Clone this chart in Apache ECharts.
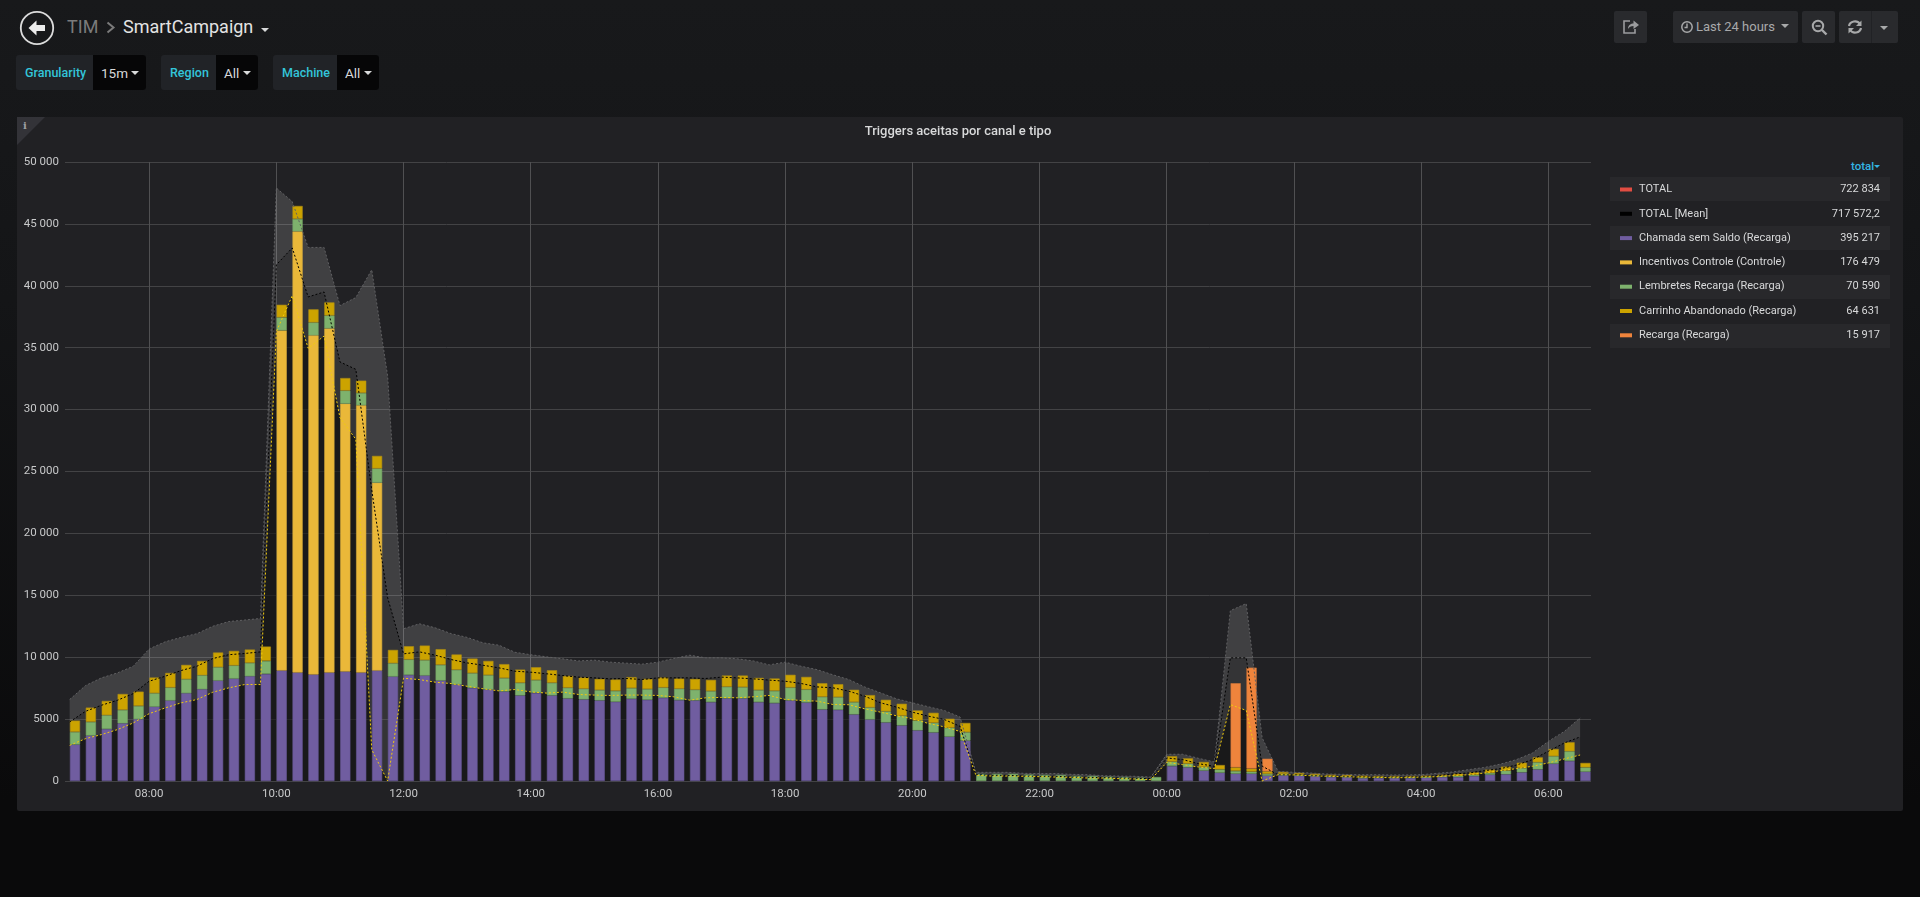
<!DOCTYPE html>
<html><head><meta charset="utf-8">
<script src="https://cdn.jsdelivr.net/npm/echarts@6/dist/echarts.min.js"></script>
<style>
html,body{margin:0;padding:0;width:1920px;height:897px;overflow:hidden;font-family:Roboto,"Open Sans",sans-serif;
 background:linear-gradient(180deg,#18191b 0,#141517 300px,#0a0a0b 800px,#0a0a0b 100%);}
.a{position:absolute;white-space:nowrap}
#chart{position:absolute;left:0;top:0;width:1920px;height:897px;z-index:2}
.box{position:absolute;top:55px;height:35px;border-radius:3px;background:#212327;overflow:hidden}
.box .val{position:absolute;top:0;bottom:0;right:0;background:#060607}
.lbl{position:absolute;top:0;line-height:35px;color:#33c5da;font-weight:500;font-size:12.5px}
.v{position:absolute;top:0;line-height:36px;color:#d8d9da;font-size:13.5px}
.car{position:absolute;width:0;height:0;border-left:4px solid transparent;border-right:4px solid transparent;border-top:4px solid #d8d9da}
.btn{position:absolute;top:11px;height:32px;background:#292a2d;border-radius:2px}
.row{position:absolute;left:1610px;width:280px;height:24px;background:#28282b}
</style></head><body>
<!-- header -->
<svg class="a" style="left:18px;top:9px" width="38" height="38" viewBox="0 0 38 38">
 <circle cx="19" cy="19" r="16.2" fill="none" stroke="#dcdcdc" stroke-width="1.8"/>
 <path d="M10.5 19 L18.5 11.5 L18.5 16 L27 16 L27 22 L18.5 22 L18.5 26.5 Z" fill="#ececec"/>
</svg>
<div class="a" style="left:67px;top:14px;font-size:18px;line-height:26px;color:#7b7b7b">TIM</div>
<svg class="a" style="left:105px;top:21px" width="11" height="13"><path d="M2.5 1.5 L8.5 6.5 L2.5 11.5" fill="none" stroke="#7b7b7b" stroke-width="2"/></svg>
<div class="a" style="left:123px;top:14px;font-size:18px;line-height:26px;color:#e3e3e3">SmartCampaign</div>
<div class="car" style="left:261px;top:28px;border-top-color:#d8d9da"></div>

<div class="box" style="left:16px;width:130px"><div class="val" style="left:77px"></div></div>
<div class="lbl a" style="left:25px;top:55px">Granularity</div><div class="v a" style="left:101px;top:55px">15m</div><div class="car" style="left:131px;top:71px"></div>
<div class="box" style="left:161px;width:97px"><div class="val" style="left:55px"></div></div>
<div class="lbl a" style="left:170px;top:55px">Region</div><div class="v a" style="left:224px;top:55px">All</div><div class="car" style="left:243px;top:71px"></div>
<div class="box" style="left:273px;width:106px"><div class="val" style="left:64px"></div></div>
<div class="lbl a" style="left:282px;top:55px">Machine</div><div class="v a" style="left:345px;top:55px">All</div><div class="car" style="left:364px;top:71px"></div>

<div class="btn" style="left:1614px;width:33px"></div>
<svg class="a" style="left:1622px;top:18px" width="18" height="17" viewBox="0 0 18 17"><path d="M8 3 H2 V15 H13 V11" fill="none" stroke="#9b9c9e" stroke-width="1.6"/><path d="M6 11 C6 7 9 5.5 11.5 5.5 V2.5 L17 7 L11.5 11 V8 C9 8 7 9 6 11Z" fill="#9b9c9e"/></svg>
<div class="btn" style="left:1673px;width:125px"></div>
<svg class="a" style="left:1680px;top:20px" width="14" height="14" viewBox="0 0 14 14"><circle cx="7" cy="7" r="5.2" fill="none" stroke="#a8a9aa" stroke-width="1.5"/><path d="M7 3.5 V7.5 H4.5" fill="none" stroke="#a8a9aa" stroke-width="1.4"/></svg>
<div class="a" style="left:1696px;top:11px;line-height:31px;font-size:13px;color:#a8a9aa">Last 24 hours</div>
<div class="car" style="left:1781px;top:24px;border-top-color:#a8a9aa"></div>
<div class="btn" style="left:1802px;width:33px"></div>
<svg class="a" style="left:1811px;top:19px" width="17" height="17" viewBox="0 0 17 17"><circle cx="7" cy="7" r="5.2" fill="none" stroke="#a8a9aa" stroke-width="2"/><path d="M4.5 7 H9.5" stroke="#a8a9aa" stroke-width="1.6"/><path d="M11 11 L15.5 15.5" stroke="#a8a9aa" stroke-width="2.4"/></svg>
<div class="btn" style="left:1839px;width:59px"></div>
<div class="a" style="left:1871px;top:11px;width:1px;height:32px;background:#212225"></div>
<svg class="a" style="left:1847px;top:19px" width="16" height="16" viewBox="0 0 16 16"><path d="M2 7 A6 5.5 0 0 1 13 5" fill="none" stroke="#a8a9aa" stroke-width="2.2"/><path d="M14.5 1.5 V7 H9Z" fill="#a8a9aa"/><path d="M14 9 A6 5.5 0 0 1 3 11" fill="none" stroke="#a8a9aa" stroke-width="2.2"/><path d="M1.5 14.5 V9 H7Z" fill="#a8a9aa"/></svg>
<div class="car" style="left:1880px;top:26px;border-top-color:#a8a9aa"></div>

<!-- panel -->
<div class="a" style="left:17px;top:117px;width:1886px;height:694px;background:#212124;border-radius:2px"></div>
<svg class="a" style="left:17px;top:117px" width="29" height="29"><path d="M0 0 H28 L0 28Z" fill="#333338"/></svg>
<div class="a" style="left:23px;top:119px;font:bold 10px 'DejaVu Serif',serif;line-height:14px;color:#a0a0a4">i</div>
<div class="a" style="left:1851px;top:158px;line-height:16px;font-size:11.5px;font-weight:500;color:#33b5e5">total</div>
<div class="car" style="left:1874px;top:165px;border-left-width:3px;border-right-width:3px;border-top:3px solid #33b5e5"></div>
<div class="row" style="top:177px"></div>
<div class="row" style="top:226px"></div>
<div class="row" style="top:275px"></div>
<div class="row" style="top:324px"></div>

<div id="chart"></div>
<script>
// 15-minute slots from 06:45 to 06:30 next day
var slotStart = new Date(2020, 0, 15, 6, 45).getTime();
var SLOT = 15 * 60000;
var firstTick = new Date(2020, 0, 15, 8, 0).getTime();
var chartTitle = 'Triggers aceitas por canal e tipo';
var xTickLabels = ['08:00','10:00','12:00','14:00','16:00','18:00','20:00','22:00','00:00','02:00','04:00','06:00'];
var legendNames = ['TOTAL','TOTAL [Mean]','Chamada sem Saldo (Recarga)','Incentivos Controle (Controle)','Lembretes Recarga (Recarga)','Carrinho Abandonado (Recarga)','Recarga (Recarga)'];
var legendTotals = ['722 834','717 572,2','395 217','176 479','70 590','64 631','15 917'];

var chamada = [2940,3670,4200,4660,4990,6000,6500,7090,7410,8110,8270,8460,8650,
 8920,8760,8600,8760,8840,8760,8920,
 8440,8570,8520,8110,7790,7520,
 7390,7230,6910,7120,6910,6670,6590,6510,6400,6640,6560,6720,6530,6510,6370,6670,6670,6370,6290,6510,6340,5780,5750,5380,4970,4730,4490,4090,3920,3580,
 3260,
 null,null,null,null,null,null,null,null,null,null,null,null,
 1210,1100,840,670,590,590,430,460,430,380,320,300,220,240,240,240,270,320,320,400,510,540,700,940,1400,1620,750];
var incentivos = [null,null,null,null,null,null,null,null,null,null,null,null,null,
 27480,35640,27400,27800,21640,21590,15180];
var lembretes = [1020,1100,1110,1080,1070,1090,1050,1130,1130,1080,1060,1080,1050,
 1050,1000,1040,1040,1050,990,1140,
 1070,1240,1240,1270,1190,1190,
 1160,1080,1020,1030,1020,860,860,830,880,860,860,830,920,860,890,940,910,970,990,1040,1050,1020,1020,990,970,890,780,800,780,720,
 680,
 570,580,580,520,490,490,410,410,350,320,270,320,
 350,300,290,270,220,160,140,110,80,110,80,80,80,80,80,80,80,80,110,110,140,300,350,570,600,780,350];
var carrinho = [920,1160,1160,1290,1160,1270,1180,1160,1160,1190,1180,1080,1160,
 1020,1050,1060,1060,1020,1000,1020,
 1080,1080,1180,1270,1240,1180,
 1150,1130,1070,1040,1020,960,910,910,920,890,830,810,830,880,910,910,940,990,1000,1030,1020,1100,1050,1000,1000,940,970,810,810,730,
 750,
 null,null,null,null,null,null,null,null,null,null,null,null,
 440,430,410,350,290,250,210,160,140,100,110,110,130,80,80,80,80,110,160,190,270,320,430,400,590,730,360];
var recarga = [];
recarga[73] = 6800; recarga[74] = 8160; recarga[75] = 1020;

var upperBand = [6580,7710,8330,8730,9270,10670,11240,11600,11900,12500,12880,13000,13130,
 47900,46800,43100,43100,38400,39050,41300,32700,12300,12700,12370,11900,11600,
 11160,10970,10400,10200,10030,9870,9700,9760,9600,9520,9440,9600,9900,10160,9950,9950,9870,9700,9380,9600,9270,9000,8580,8200,7600,7120,6640,6320,6000,5700,5170,
 700,700,700,620,600,600,540,510,430,400,380,320,
 2160,2160,1830,1540,13760,14330,3500,780,700,650,570,540,510,510,490,490,510,620,730,920,1100,1370,1730,2260,3200,4000,5100];
var totalMean = [4770,5630,6120,6520,7060,8060,8460,8920,9270,9890,10200,10300,10430,
 41700,43060,39100,39500,33850,33250,23500,14800,10270,10430,10160,9810,9540,
 9350,9140,8870,8790,8660,8520,8390,8330,8250,8280,8200,8330,8330,8330,8280,8390,8330,8250,8150,8060,7880,7600,7530,7260,6850,6320,5970,5560,5240,4970,4420,
 510,460,460,400,380,380,320,300,270,240,220,190,
 1860,1730,1400,1190,9950,9950,1200,510,510,460,400,380,350,320,320,320,350,430,570,650,840,1000,1290,1730,2400,3070,3560];
var lowerBand = [2880,3420,3750,4150,4690,5440,5900,6310,6580,7170,7520,7790,7790,
 36300,39200,34950,35940,29350,27600,2530,0,8300,8190,7980,7870,7650,
 7450,7280,7390,7200,7100,7180,6990,6940,6910,6940,6940,6910,6800,6530,6720,6750,6720,6800,6910,6590,6510,6450,6180,6160,5830,5560,5270,5030,4650,4380,4000,
 460,400,400,380,350,320,300,240,240,190,160,110,
 1500,1320,1130,1000,6170,5700,0,510,490,430,380,350,320,300,270,270,320,350,430,510,650,840,1000,1190,1460,1780,2100];

var BAR_CENTER_SHIFT = 5.03 * 60000;
function lineData(arr){ return arr.map(function(v,i){ return [slotStart + i*SLOT, v]; }); }
function barData(arr){ var out=[]; for(var i=0;i<96;i++){ var v=arr[i]; out.push([slotStart + i*SLOT + BAR_CENTER_SHIFT, v==null?null:v]); } return out; }
function area(name,data,color){ return {name:name,type:'line',data:lineData(data),showSymbol:false,symbol:'none',z:1,silent:true,clip:false,lineStyle:{width:0},areaStyle:{color:color,opacity:1},itemStyle:{color:color}}; }
function dotted(name,data,color,dash){ return {name:name,type:'line',data:lineData(data),showSymbol:false,symbol:'none',z:5,silent:true,clip:false,lineStyle:{width:1,color:color,type:dash},itemStyle:{color:color}}; }
function bars(name,data,color,edge){ return {name:name,type:'bar',stack:'t',data:barData(data),barWidth:10.2,z:3,silent:true,clip:false,itemStyle:{color:color,borderWidth:0.6,borderColor:edge}}; }

var chart = echarts.init(document.getElementById('chart'), null, {renderer:'canvas'});
chart.setOption({
 animation:false, backgroundColor:'transparent',
 textStyle:{fontFamily:'Roboto'},
 title:{text:chartTitle,left:958,top:124,textAlign:'center',textStyle:{color:'#d8d9da',fontSize:13,fontWeight:500,fontFamily:'Roboto',lineHeight:16},padding:0},
 grid:{left:65,right:329,top:162,bottom:116,containLabel:false},
 legend:{left:1620,top:184,orient:'vertical',padding:0,itemGap:13.3,itemWidth:12,itemHeight:4,icon:'rect',selectedMode:false,
  itemStyle:{borderWidth:0},
  lineStyle:{width:4,type:'solid'},
  data:legendNames,
  formatter:function(n){ return '{n|'+n+'}{v|'+legendTotals[legendNames.indexOf(n)]+'}'; },
  textStyle:{color:'#d8d9da',fontFamily:'Roboto',rich:{
   n:{width:190,lineHeight:14,fontSize:11,color:'#d8d9da',fontFamily:'Roboto',padding:[0,0,0,2]},
   v:{width:51,lineHeight:14,fontSize:11,color:'#d8d9da',align:'right',fontFamily:'Roboto'}}}},
 // ECharts pads the extent of a bar axis by half a bar on each side, so the limits are set that much inside the visible range
 xAxis:{type:'time',min:new Date(2020,0,15,6,45,25).getTime(),max:new Date(2020,0,16,6,35,27).getTime(),
  splitNumber:11,
  axisLine:{show:false},
  axisTick:{show:false},
  splitLine:{show:true,showMinLine:false,showMaxLine:false,lineStyle:{color:'#505052',width:1}},
  axisLabel:{color:'#c8c9ca',fontSize:11.5,margin:7,fontFamily:'Roboto',hideOverlap:false,showMinLabel:false,showMaxLabel:false,
   formatter:function(v){ var s=xTickLabels[Math.round((v-firstTick)/7200000)]; return s||''; }}},
 yAxis:{type:'value',min:0,max:50000,interval:5000,
  axisLine:{show:false},axisTick:{show:false},
  splitLine:{lineStyle:{color:'#434345',width:1}},
  axisLabel:{color:'#c8c9ca',fontSize:11.5,margin:6,fontFamily:'Roboto',
   formatter:function(v){ return v>=10000 ? String(v).replace(/(\d{3})$/,' $1') : String(v); }}},
 series:[
  {name:'TOTAL',type:'line',data:[],lineStyle:{color:'#E24D42'},itemStyle:{color:'#E24D42'}},
  area('upper area',upperBand,'rgba(255,255,255,0.14)'),
  area('mean area',totalMean,'rgba(0,0,0,0.18)'),
  area('lower area',lowerBand,'rgba(0,0,0,0.5)'),
  bars('Chamada sem Saldo (Recarga)',chamada,'#705DA0','#675795'),
  bars('Incentivos Controle (Controle)',incentivos,'#EAB839','#d4a93c'),
  bars('Lembretes Recarga (Recarga)',lembretes,'#7EB26D','#74a564'),
  bars('Carrinho Abandonado (Recarga)',carrinho,'#CCA300','#ad8d18'),
  bars('Recarga (Recarga)',recarga,'#EF843C','#d07539'),
  dotted('upper band',upperBand,'#606062',[2,2]),
  dotted('TOTAL [Mean]',totalMean,'#000000',[2,2]),
  dotted('lower band',lowerBand,'#F2CC0C',[2,2])
 ]
});
</script>
</body></html>
